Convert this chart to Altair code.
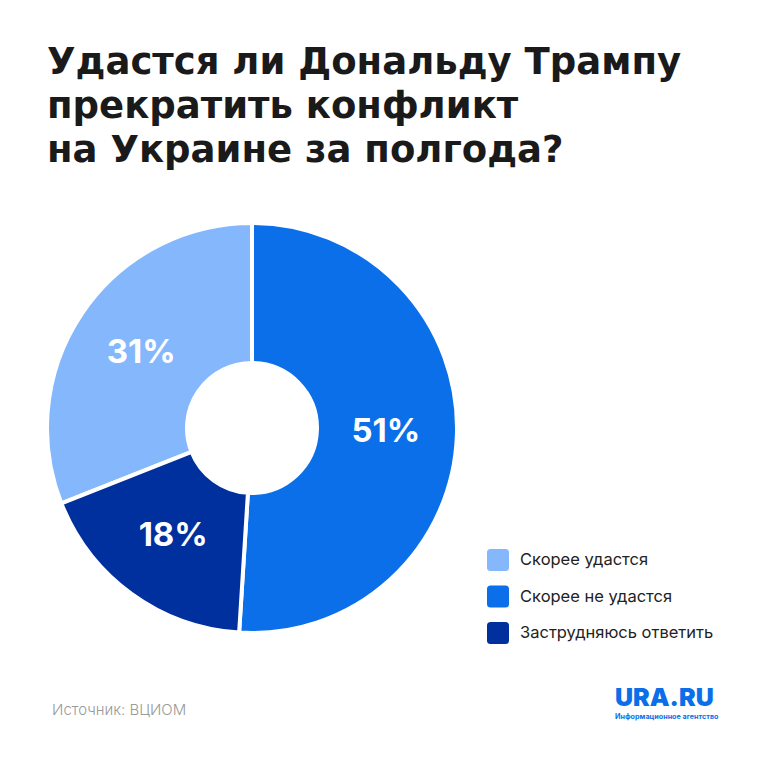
import altair as alt
import pandas as pd

# ---- data ----
categories = ["Скорее удастся", "Скорее не удастся", "Заструдняюсь ответить"]
values = [31, 51, 18]
slice_order = [3, 1, 2]
labels = ["31%", "51%", "18%"]
colors = ["#85B7FC", "#0A6FE8", "#002F9E"]

title_lines = ["Удастся ли Дональду Трампу", "прекратить конфликт", "на Украине за полгода?"]
source_text = "Источник: ВЦИОМ"
logo_text = "URA.RU"
logo_sub = "Информационное агентство"

df = pd.DataFrame({"category": categories, "value": values, "order": slice_order, "label": labels})
one = pd.DataFrame({"k": [0]})

CX, CY = 244, 420
ROUNDED = ("M -0.68,-1 H 0.68 Q 1,-1 1,-0.68 V 0.68 Q 1,1 0.68,1 H -0.68 "
           "Q -1,1 -1,0.68 V -0.68 Q -1,-1 -0.68,-1 Z")

base = alt.Chart(df).encode(
    theta=alt.Theta("value:Q", stack=True),
    order=alt.Order("order:Q"),
)

arcs = base.mark_arc(outerRadius=205, innerRadius=65, stroke="white", strokeWidth=4).encode(
    color=alt.Color(
        "category:N",
        scale=alt.Scale(domain=categories, range=colors),
        legend=alt.Legend(
            title=None, orient="none", legendX=479, legendY=541,
            symbolType=ROUNDED, symbolSize=484, symbolStrokeWidth=0, symbolOpacity=1,
            labelFont="Inter", labelFontSize=16.5, labelColor="#222222", labelLimit=400,
            labelOffset=11, rowPadding=14.5, padding=0,
        ),
    ),
    x=alt.value(CX), y=alt.value(CY),
)

pct = base.mark_text(radius=134, font="Inter", fontSize=33, fontWeight=700,
                     color="white", align="center", baseline="middle").encode(
    text="label:N", x=alt.value(CX), y=alt.value(CY),
)

title_layers = []
for i, line in enumerate(title_lines):
    title_layers.append(
        alt.Chart(one).mark_text(font="DejaVu Sans", fontSize=37, fontWeight="bold", color="#1a1a1a",
                                 align="left", baseline="alphabetic").encode(
            text=alt.value(line), x=alt.value(39), y=alt.value(66 + 44 * i),
        )
    )

source = alt.Chart(one).mark_text(font="Inter", fontSize=15, fontWeight=300, color="#9a9a9a",
                                  align="left", baseline="alphabetic").encode(
    text=alt.value(source_text), x=alt.value(44), y=alt.value(707),
)

logo = alt.Chart(one).mark_text(font="Inter", fontSize=25, fontWeight=900, color="#0A6FE8",
                                align="left", baseline="alphabetic").encode(
    text=alt.value(logo_text), x=alt.value(607), y=alt.value(698),
)

logo2 = alt.Chart(one).mark_text(font="Inter", fontSize=7.2, fontWeight=700, color="#0A6FE8",
                                 align="left", baseline="alphabetic").encode(
    text=alt.value(logo_sub), x=alt.value(607), y=alt.value(711),
)

chart = alt.layer(arcs, pct, *title_layers, source, logo, logo2).properties(
    width=744, height=744, autosize=alt.AutoSizeParams(type="none"), padding=0,
    background="white",
).configure_view(stroke=None)

chart.save("out.html", embed_options={"renderer": "svg", "actions": False})
